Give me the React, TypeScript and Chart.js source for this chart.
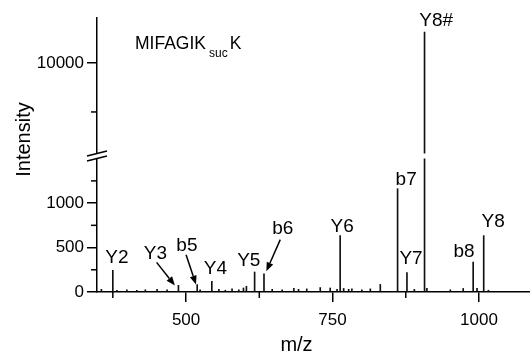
import { useEffect, useRef } from 'react';
import { Chart, registerables } from 'chart.js';

Chart.register(...registerables);

// ---- data (m/z vs intensity) ----
const peakMz = [
  355.5, 375, 382, 399, 416, 430.5, 450.5, 467.6, 487, 519, 524, 544, 556, 567, 578.5, 590, 598, 603,
  617, 633, 647, 664, 684, 692, 706, 729, 746, 757.7, 763, 769, 777.5, 783, 800, 814.5, 831.5,
  861, 877, 889.6, 907, 911, 951, 973, 990, 996.6, 1008, 1016,
];
const peakIntensity = [
  30, 244, 20, 25, 20, 25, 30, 25, 75, 83, 25, 120, 30, 20, 35, 25, 45, 65,
  225, 205, 30, 25, 40, 30, 35, 50, 45, 30, 634, 40, 30, 35, 25, 35, 85,
  1162, 218, 30, 10633, 40, 25, 40, 337, 40, 634, 20,
];

// ion labels
const labelText = ['Y2', 'Y3', 'b5', 'Y4', 'Y5', 'b6', 'Y6', 'b7', 'Y7', 'Y8#', 'b8', 'Y8'];
const labelMz = [382, 447.7, 501.4, 550, 607, 665, 766.5, 875.6, 884, 927, 974.4, 1024];
const labelIntensity = [384, 429, 519, 261, 351, 710, 738, 1261, 379, 10867, 457, 789];
const labelAxis = ['yLow', 'yLow', 'yLow', 'yLow', 'yLow', 'yLow', 'yLow', 'yLow', 'yLow', 'yHigh', 'yLow', 'yLow'];

// arrows (from label to peak)
const arrowFromMz = [449.7, 500, 660.8];
const arrowFromInt = [333, 420, 589];
const arrowToMz = [481, 517, 637];
const arrowToInt = [72, 83, 233];

// axes
const X_MIN = 348;
const X_MAX = 1087;
const LOW_MAX = 1530;
const HIGH_MIN = 8100;
const HIGH_MAX = 10920;
const xMajorTicks = [500, 750, 1000];
const xMinorTicks = [375, 625, 875];
const yLowMajorTicks = [0, 500, 1000];
const yLowMinorTicks = [250, 750, 1250];
const yHighMajorTicks = [10000];
const yHighMinorTicks = [9000];

const FONT = 'Liberation Sans, Arial, Helvetica, sans-serif';

function drawArrow(ctx: any, x1: number, y1: number, x2: number, y2: number) {
  const ang = Math.atan2(y2 - y1, x2 - x1);
  const head = 9;
  const half = 3.5;
  const bx = x2 - head * Math.cos(ang);
  const by = y2 - head * Math.sin(ang);
  ctx.beginPath();
  ctx.moveTo(x1, y1);
  ctx.lineTo(bx, by);
  ctx.lineWidth = 1.5;
  ctx.strokeStyle = '#000';
  ctx.stroke();
  ctx.beginPath();
  ctx.moveTo(x2, y2);
  ctx.lineTo(bx + half * Math.sin(ang), by - half * Math.cos(ang));
  ctx.lineTo(bx - half * Math.sin(ang), by + half * Math.cos(ang));
  ctx.closePath();
  ctx.fillStyle = '#000';
  ctx.fill();
}

const decorPlugin = {
  id: 'decor',
  afterDraw(chart: any) {
    const ctx = chart.ctx;
    const area = chart.chartArea;
    const xs = chart.scales.x;
    const yl = chart.scales.yLow;
    const yh = chart.scales.yHigh;
    ctx.save();
    ctx.strokeStyle = '#000';
    ctx.lineWidth = 1.5;
    // minor ticks
    xMinorTicks.forEach((v) => {
      const px = xs.getPixelForValue(v);
      ctx.beginPath();
      ctx.moveTo(px, xs.top);
      ctx.lineTo(px, xs.top + 6);
      ctx.stroke();
    });
    [[yl, yLowMinorTicks], [yh, yHighMinorTicks]].forEach(([s, arr]: any) => {
      arr.forEach((v: number) => {
        const py = s.getPixelForValue(v);
        ctx.beginPath();
        ctx.moveTo(s.right - 6, py);
        ctx.lineTo(s.right, py);
        ctx.stroke();
      });
    });
    // axis break
    const b = yl.top;
    const L = area.left;
    ctx.fillStyle = '#fff';
    ctx.fillRect(L - 2, b - 2.5, area.right - L + 2, 5);
    [-2.5, 2.5].forEach((off) => {
      ctx.beginPath();
      ctx.moveTo(L - 10, b + off + 2.5);
      ctx.lineTo(L + 10, b + off - 2.5);
      ctx.stroke();
    });
    // ion labels
    ctx.fillStyle = '#000';
    ctx.font = `19px ${FONT}`;
    ctx.textAlign = 'center';
    ctx.textBaseline = 'middle';
    labelText.forEach((t, i) => {
      const s = chart.scales[labelAxis[i]];
      ctx.fillText(t, xs.getPixelForValue(labelMz[i]), s.getPixelForValue(labelIntensity[i]));
    });
    // arrows
    arrowFromMz.forEach((_, i) => {
      drawArrow(
        ctx,
        xs.getPixelForValue(arrowFromMz[i]),
        yl.getPixelForValue(arrowFromInt[i]),
        xs.getPixelForValue(arrowToMz[i]),
        yl.getPixelForValue(arrowToInt[i])
      );
    });
    // peptide annotation
    ctx.textAlign = 'left';
    ctx.textBaseline = 'alphabetic';
    ctx.font = `17.5px ${FONT}`;
    const ax = area.left + 38;
    const ay = area.top + 31.3;
    ctx.fillText('MIFAGIK', ax, ay);
    const w1 = ctx.measureText('MIFAGIK').width;
    ctx.font = `12px ${FONT}`;
    ctx.fillText('suc', ax + w1 + 3, ay + 7.4);
    const w2 = ctx.measureText('suc').width;
    ctx.font = `17.5px ${FONT}`;
    ctx.fillText('K', ax + w1 + 3 + w2 + 2, ay);
    // axis titles
    ctx.font = `20px ${FONT}`;
    ctx.textAlign = 'center';
    ctx.save();
    ctx.translate(area.left - 67, area.top + 121.5);
    ctx.rotate(-Math.PI / 2);
    ctx.fillText('Intensity', 0, 0);
    ctx.restore();
    ctx.fillText('m/z', area.left + 199.5, chart.height - 1);
    ctx.restore();
  },
};

export default function App() {
  const ref = useRef<HTMLCanvasElement>(null);
  useEffect(() => {
    if (!ref.current) return;
    const lowData = peakMz.map((m, i) => ({ x: m, y: Math.min(peakIntensity[i], LOW_MAX) }));
    const highData = peakMz
      .map((m, i) => ({ x: m, y: peakIntensity[i] }))
      .filter((p) => p.y > LOW_MAX);
    const tickFont = { family: FONT, size: 17 };
    const yCommon = (major: number[]) => ({
      type: 'linear',
      position: 'left',
      stack: 'y',
      afterBuildTicks: (s: any) => {
        s.ticks = major.map((v) => ({ value: v }));
      },
      afterFit: (s: any) => {
        s.width = 97;
      },
      ticks: { font: tickFont, color: '#000', padding: 3, callback: (v: any) => String(v) },
      grid: { drawOnChartArea: false, tickLength: 10, color: '#000', lineWidth: 1.5 },
      border: { color: '#000', width: 1.5 },
    });
    const chart = new Chart(ref.current, {
      type: 'bar',
      data: {
        datasets: [
          {
            data: lowData,
            xAxisID: 'x',
            yAxisID: 'yLow',
            backgroundColor: '#111',
            barThickness: 1,
            grouped: false,
            borderWidth: 0,
          } as any,
          {
            data: highData,
            xAxisID: 'x',
            yAxisID: 'yHigh',
            backgroundColor: '#111',
            barThickness: 1,
            grouped: false,
            borderWidth: 0,
          } as any,
        ],
      },
      options: {
        animation: false,
        responsive: false,
        layout: { padding: { top: 18, left: 0, right: 0, bottom: 0 } },
        plugins: { legend: { display: false }, tooltip: { enabled: false } },
        scales: {
          x: {
            type: 'linear',
            min: X_MIN,
            max: X_MAX,
            offset: false,
            afterBuildTicks: (s: any) => {
              s.ticks = xMajorTicks.map((v) => ({ value: v }));
            },
            afterFit: (s: any) => {
              s.height = 60;
            },
            ticks: {
              font: tickFont,
              color: '#000',
              padding: 8,
              maxRotation: 0,
              autoSkip: false,
              callback: (v: any) => String(v),
            },
            grid: { offset: false, drawOnChartArea: false, tickLength: 10, color: '#000', lineWidth: 1.5 },
            border: { color: '#000', width: 1.5 },
          },
          yLow: { ...yCommon(yLowMajorTicks), min: 0, max: LOW_MAX, stackWeight: 136 },
          yHigh: { ...yCommon(yHighMajorTicks), min: HIGH_MIN, max: HIGH_MAX, stackWeight: 138 },
        } as any,
      },
      plugins: [decorPlugin],
    });
    return () => chart.destroy();
  }, []);
  return (
    <canvas
      ref={ref}
      width={530}
      height={352}
      style={{ position: 'fixed', left: 0, top: 0, width: 530, height: 352 }}
    />
  );
}
